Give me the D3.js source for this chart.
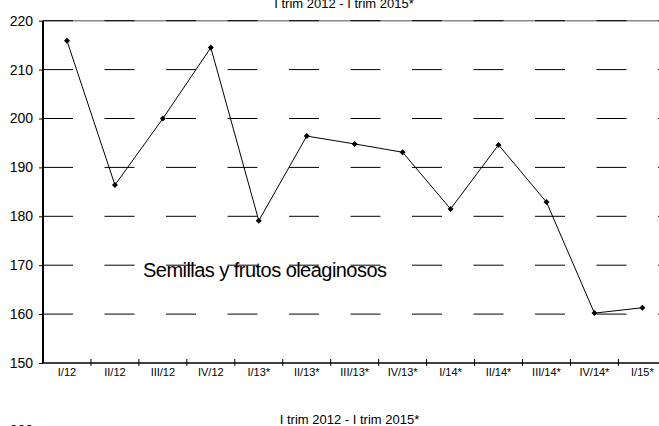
<!DOCTYPE html>
<html><head><meta charset="utf-8">
<script src="https://cdn.jsdelivr.net/npm/d3@7"></script>
<style>
html,body{margin:0;padding:0;background:#fff;}
svg{display:block;font-family:"Liberation Sans",Arial,sans-serif;}
</style></head>
<body>
<script>
const categories = ["I/12","II/12","III/12","IV/12","I/13*","II/13*","III/13*","IV/13*","I/14*","II/14*","III/14*","IV/14*","I/15*"];
const values = [215.9,186.4,200.0,214.5,179.1,196.4,194.8,193.1,181.5,194.6,182.9,160.2,161.3];
const yTicks = [150,160,170,180,190,200,210,220];
const titleText = "I trim 2012 - I trim 2015*";
const seriesLabel = "Semillas y frutos oleaginosos";
const nextChartTick = "220";

const W = 659, H = 426;
const svg = d3.select("body").append("svg").attr("width", W).attr("height", H);

const x0 = 43, band = 47.95;
const x = d3.scaleBand().domain(categories).range([x0, x0 + band * categories.length]).padding(0);
const y = d3.scaleLinear().domain([150, 220]).range([363, 20.7]);

// top border line
svg.append("line").attr("x1", x0).attr("x2", W).attr("y1", y(220)).attr("y2", y(220))
  .attr("stroke", "#8a8a8a").attr("stroke-width", 1.5);

// dashed gridlines
svg.append("g").selectAll("line").data(yTicks.filter(d => d > 150)).join("line")
  .attr("x1", x0).attr("x2", W + 10)
  .attr("y1", d => y(d)).attr("y2", d => y(d))
  .attr("stroke", "#000").attr("stroke-width", 1)
  .attr("stroke-dasharray", "30,31.5");

// y axis
const yAxis = d3.axisLeft(y).tickValues(yTicks).tickSize(4).tickFormat(d3.format("d"));
const gy = svg.append("g").attr("transform", `translate(${x0},0)`).call(yAxis);
gy.select(".domain").attr("stroke", "#000").attr("stroke-width", 2).attr("d", `M0,${y(220)}V${y(150)}`);
gy.selectAll(".tick line").attr("stroke", "#000");
gy.selectAll(".tick text").attr("x", -10).attr("font-size", 14).attr("font-family", "Liberation Sans, Arial, sans-serif").attr("fill", "#000");

// x axis line
svg.append("line").attr("x1", x0).attr("x2", W + 10).attr("y1", y(150)).attr("y2", y(150))
  .attr("stroke", "#000").attr("stroke-width", 1.5);
// x tick marks at band boundaries
const bounds = categories.map(c => x(c)).concat([x(categories[categories.length - 1]) + x.bandwidth()]);
svg.append("g").selectAll("line").data(bounds.slice(1)).join("line")
  .attr("x1", d => d).attr("x2", d => d)
  .attr("y1", y(150) - 4).attr("y2", y(150) + 3)
  .attr("stroke", "#000").attr("stroke-width", 1);
// x labels
svg.append("g").selectAll("text").data(categories).join("text")
  .attr("x", d => x(d) + x.bandwidth() / 2).attr("y", 376)
  .attr("text-anchor", "middle").attr("font-size", 11).attr("fill", "#000")
  .text(d => d);

// line
const line = d3.line().x((d, i) => x(categories[i]) + x.bandwidth() / 2).y(d => y(d));
svg.append("path").datum(values).attr("d", line)
  .attr("fill", "none").attr("stroke", "#000").attr("stroke-width", 1);
// diamond markers
svg.append("g").selectAll("path").data(values).join("path")
  .attr("transform", (d, i) => `translate(${x(categories[i]) + x.bandwidth() / 2},${y(d)})`)
  .attr("d", "M0,-3L3,0L0,3L-3,0Z").attr("fill", "#000");

// series label
svg.append("text").attr("x", 143).attr("y", 277).attr("font-size", 20)
  .attr("textLength", 244).attr("lengthAdjust", "spacing").attr("fill", "#000")
  .text(seriesLabel);

// titles
svg.append("text").attr("x", 344).attr("y", 8).attr("text-anchor", "middle")
  .attr("font-size", 13).attr("fill", "#000").text(titleText);
svg.append("text").attr("x", 349.5).attr("y", 424).attr("text-anchor", "middle")
  .attr("font-size", 13).attr("fill", "#000").text(titleText);

// partially visible tick label of next chart
svg.append("text").attr("x", 33).attr("y", 435).attr("text-anchor", "end")
  .attr("font-size", 14).attr("fill", "#000").text(nextChartTick);
</script>
</body></html>
